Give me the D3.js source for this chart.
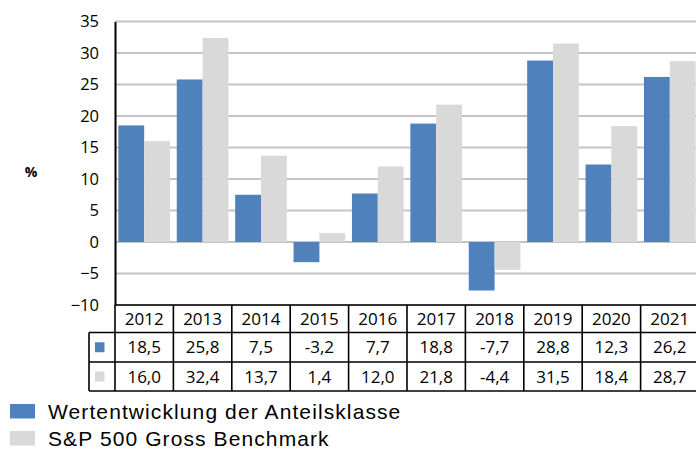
<!DOCTYPE html>
<html>
<head>
<meta charset="utf-8">
<script src="https://cdn.jsdelivr.net/npm/d3@7"></script>
<style>
  body { margin: 0; background: #fff; }
  svg text { font-family: "Open Sans", "Liberation Sans", sans-serif; fill: #000; }
</style>
</head>
<body>
<div id="chart"></div>
<script>
const years = ["2012", "2013", "2014", "2015", "2016", "2017", "2018", "2019", "2020", "2021"];
const fund = [18.5, 25.8, 7.5, -3.2, 7.7, 18.8, -7.7, 28.8, 12.3, 26.2];
const bench = [16.0, 32.4, 13.7, 1.4, 12.0, 21.8, -4.4, 31.5, 18.4, 28.7];
const seriesNames = ["Wertentwicklung der Anteilsklasse", "S&P 500 Gross Benchmark"];
const yTicks = [-10, -5, 0, 5, 10, 15, 20, 25, 30, 35];

const width = 696, height = 450;
const colors = ["#4f81bd", "#d9d9d9"];

const svg = d3.select("#chart").append("svg")
    .attr("width", width)
    .attr("height", height);

let x = d3.scaleBand()
    .domain(years)
    .range([115, 699])
    .paddingInner(0.115)
    .paddingOuter(0.0575);

// band without padding, for the table cells
let xCell = d3.scaleBand()
    .domain(years)
    .range([115, 699]);

let xSub = d3.scaleBand()
    .domain([0, 1])
    .range([0, x.bandwidth()]);

let y = d3.scaleLinear()
    .domain([-10, 35])
    .range([305, 21.5]);

// gridlines
svg.append("g")
    .selectAll("line")
    .data(yTicks)
    .join("line")
    .attr("x1", 115)
    .attr("x2", width)
    .attr("y1", d => y(d))
    .attr("y2", d => y(d))
    .attr("stroke", "#c4c4c4")
    .attr("stroke-width", 2);

// bars
const rows = years.map((yr, i) => ({ year: yr, values: [fund[i], bench[i]] }));

svg.append("g")
    .selectAll("g")
    .data(rows)
    .join("g")
    .attr("transform", d => `translate(${x(d.year)},0)`)
    .selectAll("rect")
    .data(d => d.values.map((v, k) => ({ k, v })))
    .join("rect")
    .attr("x", d => xSub(d.k))
    .attr("width", xSub.bandwidth())
    .attr("y", d => y(Math.max(0, d.v)))
    .attr("height", d => Math.abs(y(d.v) - y(0)))
    .attr("fill", d => colors[d.k]);

// y axis
const yAxis = svg.append("g")
    .attr("transform", "translate(115,0)")
    .call(d3.axisLeft(y).tickValues(yTicks).tickSize(0).tickPadding(16));
yAxis.select(".domain").attr("stroke", "#000").attr("stroke-width", 2);
yAxis.selectAll("text")
    .style("font-family", "'Open Sans', sans-serif")
    .attr("font-size", 16.5);

svg.append("text")
    .attr("x", 31)
    .attr("y", 177)
    .attr("text-anchor", "middle")
    .attr("font-size", 14)
    .attr("font-weight", "bold")
    .text("%");

// data table
const rowY = [305, 332.5, 362, 391];
const table = svg.append("g");
const fmt = v => v.toFixed(1).replace(".", ",");

table.selectAll(".yr")
    .data(years)
    .join("text")
    .attr("class", "yr")
    .attr("x", d => xCell(d) + xCell.bandwidth() / 2)
    .attr("y", (rowY[0] + rowY[1]) / 2)
    .attr("dy", "0.36em")
    .attr("text-anchor", "middle")
    .attr("font-size", 17)
    .text(d => d);

[fund, bench].forEach((vals, r) => {
    table.append("g")
        .selectAll("text")
        .data(vals)
        .join("text")
        .attr("x", (d, i) => xCell(years[i]) + xCell.bandwidth() / 2)
        .attr("y", (rowY[r + 1] + rowY[r + 2]) / 2)
        .attr("dy", "0.36em")
        .attr("text-anchor", "middle")
        .attr("font-size", 17)
        .text(d => fmt(d));

    table.append("rect")
        .attr("x", 95)
        .attr("y", (rowY[r + 1] + rowY[r + 2]) / 2 - 5)
        .attr("width", 9.5)
        .attr("height", 10)
        .attr("fill", colors[r]);
});

const line = (x1, y1, x2, y2) => table.append("line")
    .attr("x1", x1).attr("y1", y1).attr("x2", x2).attr("y2", y2)
    .attr("stroke", "#000").attr("stroke-width", 1.6);

line(115, rowY[0], width, rowY[0]);
line(89, rowY[1], width, rowY[1]);
line(89, rowY[2], width, rowY[2]);
line(89, rowY[3], width, rowY[3]);
line(89, rowY[1], 89, rowY[3]);
years.forEach(yr => line(xCell(yr), rowY[0], xCell(yr), rowY[3]));

// legend
const legend = svg.append("g")
    .selectAll("g")
    .data(seriesNames)
    .join("g")
    .attr("transform", (d, i) => `translate(10,${404 + i * 27})`);

legend.append("rect")
    .attr("width", 25)
    .attr("height", 14.5)
    .attr("fill", (d, i) => colors[i]);

legend.append("text")
    .attr("x", 38)
    .attr("y", 14.5)
    .attr("font-size", 21)
    .attr("letter-spacing", 1.1)
    .style("font-family", "'Liberation Sans', Arial, sans-serif")
    .text(d => d);
</script>
</body>
</html>
